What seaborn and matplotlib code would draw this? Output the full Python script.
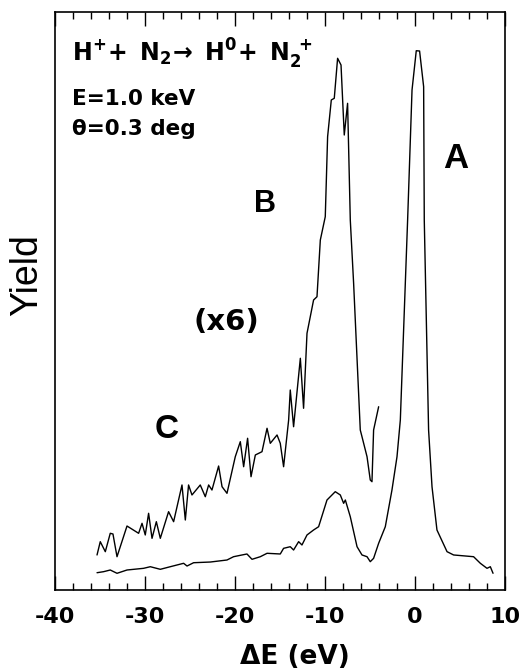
import numpy as np
import pandas as pd
import matplotlib
matplotlib.use("Agg")
import matplotlib.pyplot as plt
import seaborn as sns

# ---- data ----
# full spectrum (x1)
energy_full = [-35.33, -34.60, -33.86, -33.11, -32.00, -30.16, -29.41, -28.30, -27.19, -25.71,
               -25.33, -24.60, -22.74, -20.89, -20.16, -19.22, -18.67, -18.11, -17.19, -16.44,
               -14.97, -14.60, -13.86, -13.49, -12.93, -12.56, -12.00, -11.27, -10.71, -9.78,
               -8.86, -8.30, -7.93, -7.74, -7.19, -6.44, -5.89, -5.33, -4.97, -4.60,
               -4.04, -3.30, -2.56, -2.00, -1.63, -0.82, -0.33, 0.14, 0.51, 0.96,
               1.03, 1.51, 1.89, 2.44, 3.56, 4.29, 6.51, 7.26, 8.00, 8.37, 8.67]
yield_full = [2.99, 3.17, 3.46, 2.89, 3.46, 3.75, 4.03, 3.58, 4.03, 4.62,
              4.15, 4.72, 4.84, 5.19, 5.76, 6.06, 6.23, 5.31, 5.76, 6.35,
              6.23, 7.21, 7.49, 6.92, 8.36, 7.79, 9.52, 10.38, 10.95, 15.57,
              17.01, 16.44, 15.00, 15.57, 12.68, 7.49, 6.06, 5.76, 4.90, 5.48,
              8.08, 10.95, 17.30, 23.06, 29.41, 64.01, 86.51, 93.30, 93.25, 87.08,
              64.01, 27.68, 17.87, 10.38, 6.63, 6.06, 5.76, 4.62, 3.75, 4.03, 2.89]

# magnified part (x6)
energy_x6 = [-35.33, -34.97, -34.41, -33.86, -33.56, -33.11, -32.00, -30.71, -30.33, -29.97,
             -29.60, -29.22, -28.74, -28.30, -27.38, -26.82, -25.89, -25.52, -25.16, -24.78,
             -23.86, -23.30, -22.93, -22.56, -21.82, -21.44, -20.89, -19.97, -19.41, -19.04,
             -18.60, -18.22, -17.74, -17.00, -16.44, -16.08, -15.33, -14.97, -14.60, -14.04,
             -13.86, -13.49, -12.74, -12.38, -12.00, -11.27, -10.89, -10.52, -9.97, -9.71,
             -9.30, -8.97, -8.60, -8.22, -7.86, -7.49, -7.19, -6.82, -6.08, -5.89,
             -5.33, -4.97, -4.78, -4.60, -4.04]
yield_x6 = [6.06, 8.36, 6.63, 9.81, 9.69, 5.76, 11.07, 9.81, 11.54, 9.52,
            13.27, 8.94, 11.82, 8.94, 13.55, 11.82, 18.17, 12.11, 18.17, 16.44,
            18.17, 16.14, 18.17, 17.30, 21.45, 17.87, 16.73, 23.06, 25.66, 21.33,
            26.25, 19.60, 23.36, 23.93, 27.98, 25.38, 26.82, 25.38, 21.33, 29.41,
            34.60, 28.25, 40.09, 31.44, 44.41, 50.17, 50.74, 60.55, 64.59, 78.43,
            84.78, 85.07, 91.99, 90.83, 78.72, 84.20, 64.01, 53.06, 27.68, 26.52,
            23.06, 19.03, 18.74, 27.68, 31.71]

x_ticks = [-40, -30, -20, -10, 0, 10]
x_ticklabels = ["-40", "-30", "-20", "-10", "0", "10"]

df_full = pd.DataFrame({"dE": energy_full, "Yield": yield_full})
df_x6 = pd.DataFrame({"dE": energy_x6, "Yield": yield_x6})

sns.set_style("ticks")
plt.rcParams["font.family"] = ["DejaVu Sans"]
plt.rcParams["mathtext.fontset"] = "dejavusans"
plt.rcParams["text.color"] = "black"
plt.rcParams["axes.labelcolor"] = "black"
plt.rcParams["xtick.color"] = "black"
plt.rcParams["ytick.color"] = "black"
plt.rcParams["axes.edgecolor"] = "black"

W, H = 524, 671
fig = plt.figure(figsize=(W / 100, H / 100), dpi=100)
ax = fig.add_axes([55 / W, 1 - 590 / H, 450 / W, 578 / H])

sns.lineplot(data=df_full, x="dE", y="Yield", ax=ax, color="black", lw=1.0,
             estimator=None, sort=False)
sns.lineplot(data=df_x6, x="dE", y="Yield", ax=ax, color="black", lw=1.0,
             estimator=None, sort=False)

ax.set_xlim(-40, 10)
ax.set_ylim(0, 100)
ax.set_xlabel("")
ax.set_ylabel("")
ax.set_yticks([])
ax.set_xticks(x_ticks)
ax.set_xticklabels(x_ticklabels, fontsize=16, fontweight="bold", family="DejaVu Sans",
                   color="black")
ax.set_xticks(np.arange(-38, 10, 2), minor=True)
ax.tick_params(axis="x", which="major", direction="in", length=10, width=1.0,
               top=True, bottom=True, pad=12, color="black", labelcolor="black")
ax.tick_params(axis="x", which="minor", direction="in", length=5, width=1.0,
               top=True, bottom=True, color="black")
for s in ax.spines.values():
    s.set_visible(True)
    s.set_linewidth(1.2)
    s.set_color("black")

def fx(px):
    return px / W

def fy(py):
    return 1 - py / H

fig.text(fx(72), fy(62), r"$\mathbf{H^{+}\!+\ N_{2}\!\rightarrow\ H^{0}\!+\ N_{2}^{\ +}}$",
         fontsize=17, ha="left", va="baseline", color="black")
fig.text(fx(72), fy(105), "E=1.0 keV", fontsize=15.5, fontweight="bold",
         ha="left", va="baseline", color="black")
fig.text(fx(72), fy(135), "θ=0.3 deg", fontsize=15.5, fontweight="bold",
         ha="left", va="baseline", color="black")
fig.text(fx(456), fy(158), "A", fontsize=25, fontweight="bold", ha="center", va="center",
         family="Liberation Sans", color="black")
fig.text(fx(265), fy(204), "B", fontsize=22, fontweight="bold", ha="center", va="center",
         family="Liberation Sans", color="black")
fig.text(fx(226), fy(322), "(x6)", fontsize=21, fontweight="bold", ha="center", va="center",
         color="black")
fig.text(fx(167), fy(429), "C", fontsize=24, fontweight="bold", ha="center", va="center",
         family="Liberation Sans", color="black")

fig.text(fx(27), fy(275), "Yield", rotation=90, fontsize=27, ha="center", va="center",
         family="Liberation Sans", color="black")
fig.text(fx(295), fy(664), "ΔE (eV)", fontsize=19, fontweight="bold", ha="center",
         va="baseline", color="black")

fig.savefig("out.png", dpi=100)
